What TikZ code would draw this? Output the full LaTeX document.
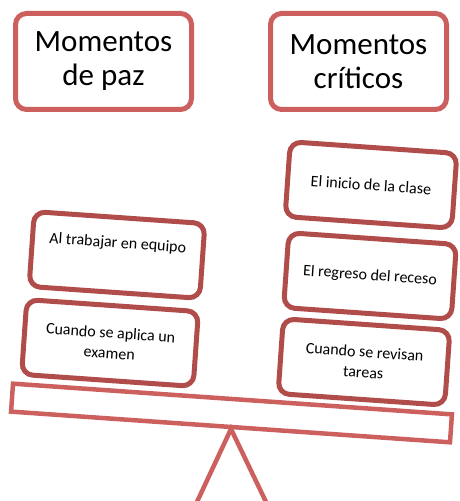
\documentclass[tikz,border=0pt]{standalone}
\usepackage{fontspec}
\setmainfont{Carlito}
\definecolor{lightred}{RGB}{204,96,94}
\definecolor{darkred}{RGB}{176,76,73}
\begin{document}
\begin{tikzpicture}[x=1pt,y=1pt,
  titlebox/.style={draw=lightred, line width=5pt, rounded corners=11pt, fill=white,
    minimum width=176pt, minimum height=96pt, align=center, inner sep=0pt,
    font=\fontsize{31}{34}\selectfont},
  itembox/.style={draw=darkred, line width=5pt, rounded corners=11pt, fill=white,
    minimum height=75pt, align=center, inner sep=0pt, rotate=-4,
    font=\fontsize{16}{20.5}\selectfont},
  beamstyle/.style={draw=lightred, line width=4.5pt, minimum width=440pt, minimum height=28pt,
    rotate=-4, inner sep=0pt}]
\useasboundingbox (0,0) rectangle (460,501);
% fulcrum
\coordinate (apex) at (231,72);
\coordinate (bl) at (196,-3);
\coordinate (br) at (267,-3);
\draw[lightred, line width=4.5pt, line join=miter] (bl) -- (apex) -- (br);
% beam
\node[beamstyle] (beam) at (231.5,88) {};
% title boxes
\node[titlebox] (paz) at (103.5,439.5) {Momentos\\de paz};
\node[titlebox] (crit) at (358.5,439.5) {Momentos\\críticos};
% left stack
\node[itembox, minimum width=171pt] (equipo) at (117,246) {Al trabajar en equipo\\[5pt]\mbox{}};
\node[itembox, minimum width=172pt] (examen) at (110,158) {Cuando se aplica un\\examen};
% right stack
\node[itembox, minimum width=167pt] (inicio) at (371,316) {El inicio de la clase};
\node[itembox, minimum width=168pt] (receso) at (370,225) {El regreso del receso};
\node[itembox, minimum width=167pt] (tareas) at (364,139) {Cuando se revisan\\tareas};
\end{tikzpicture}
\end{document}
